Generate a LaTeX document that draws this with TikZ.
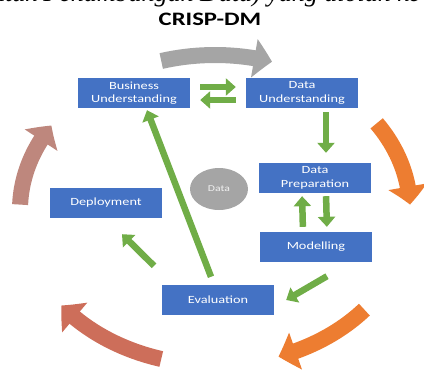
\documentclass[tikz,border=0pt]{standalone}
\usepackage{fontspec}
\setmainfont{Liberation Serif}
\newfontfamily\phasefont[FakeStretch=1.3]{Carlito}
\usetikzlibrary{arrows.meta,bending,calc,shapes.geometric}
\definecolor{cdblue}{HTML}{4472C4}
\definecolor{cdgreen}{HTML}{70AD47}
\definecolor{cdorange}{HTML}{ED7D31}
\definecolor{cdgray}{HTML}{A5A5A5}
\definecolor{cdbrick}{HTML}{CD6E5A}
\definecolor{cdmauve}{HTML}{BE877D}

\begin{document}
\begin{tikzpicture}[
  x=1pt, y=-1pt,
  phase/.style={fill=cdblue, text=white, inner sep=0pt,
                font=\phasefont\fontsize{11}{13.5}\selectfont, align=center,
                minimum width=112pt, minimum height=30pt},
  hub/.style={ellipse, fill=cdgray, text=white!85!cdgray, inner sep=0pt,
              font=\phasefont\fontsize{9}{9}\selectfont,
              minimum width=58pt, minimum height=42pt},
  flow/.style={-{Triangle[length=10pt,width=17pt]}, cdgreen, line width=6.5pt},
  ring/.style={-{Triangle[length=18pt,width=38pt,bend]}, line width=16pt},
]
  \useasboundingbox (0,0) rectangle (424,373);
  \clip (0,0) rectangle (424,373);

  %% Caption line cut off at the top, and title
  \node[font=\itshape\fontsize{26}{26}\selectfont, anchor=base west, inner sep=0pt]
    (caption) at (-21,1) {untuk Penambangan Data) yang diolah ke};
  \node[font=\phasefont\bfseries\fontsize{19}{19}\selectfont, anchor=base, inner sep=0pt]
    (title) at (210,25) {CRISP-DM};

  %% Outer cycle
  \coordinate (ctr) at (215,210);
  \draw[ring, cdgray] ($(ctr)+(-106:195 and 155)$)
    arc[start angle=-106, end angle=-73, x radius=195, y radius=155];
  \draw[ring, cdorange] ($(ctr)+(-34:195 and 155)$)
    arc[start angle=-34, end angle=-2, x radius=195, y radius=155];
  \draw[ring, cdorange] ($(ctr)+(40:195 and 155)$)
    arc[start angle=40, end angle=71, x radius=195, y radius=155];
  \draw[ring, cdbrick] ($(ctr)+(106:195 and 155)$)
    arc[start angle=106, end angle=142, x radius=195, y radius=155];
  \draw[ring, cdmauve] ($(ctr)+(182:195 and 155)$)
    arc[start angle=182, end angle=213, x radius=195, y radius=155];

  %% Phases
  \node[phase] (bu) at (134,93) {Business\\Understanding};
  \node[phase] (du) at (302,93) {Data\\Understanding};
  \node[phase] (dp) at (315,178) {Data\\Preparation};
  \node[phase] (mod) at (316,247) {Modelling};
  \node[phase] (eval) at (218,300) {Evaluation};
  \node[phase] (dep) at (106,203) {Deployment};
  \node[hub] (data) at (219,189) {Data};

  %% Inner flow
  \draw[flow, shorten <=10pt, shorten >=10pt] ([yshift=6pt]bu.east) -- ([yshift=6pt]du.west);
  \draw[flow, shorten <=10pt, shorten >=10pt] ([yshift=-7pt]du.west) -- ([yshift=-7pt]bu.east);
  \draw[flow, shorten <=4pt, shorten >=10pt] ([xshift=24pt]du.south) -- ([xshift=11pt]dp.north);
  \draw[flow, shorten <=3pt, shorten >=5pt] ([xshift=11pt]dp.south) -- ([xshift=11pt]mod.north);
  \draw[flow, shorten <=5pt, shorten >=3pt] ([xshift=-13pt]mod.north) -- ([xshift=-13pt]dp.south);
  \draw[flow] ($(mod.south)+(11,14)$) -- ($(eval.east)+(12,0)$);
  \draw[flow] ($(eval.north)+(-7,-8)$) -- ($(bu.south)+(13,2)$);
  \draw[flow] ($(eval.north)+(-64,-19)$) -- ($(dep.south)+(16,16)$);

\end{tikzpicture}
\end{document}
